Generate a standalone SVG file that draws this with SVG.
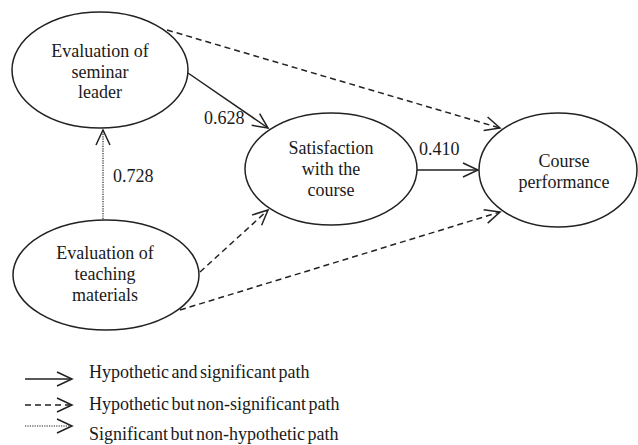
<svg xmlns="http://www.w3.org/2000/svg" width="638" height="445" viewBox="0 0 638 445">
<style>
.node{fill:#fff;stroke:#222;stroke-width:1.5}
text{font-family:"Liberation Serif","Times New Roman",Times,serif;fill:#1a1a1a}
.t{font-size:18px;text-anchor:middle}
.n{font-size:18px}
.lg{font-size:18px;word-spacing:-2px}
.c{fill:none;stroke:#222;stroke-width:1.5}
.dash{stroke-dasharray:6,4}
.dot{stroke-width:1.2;stroke-dasharray:1.2,1.2}
</style>
<defs>
<marker id="ah" markerUnits="userSpaceOnUse" markerWidth="20" markerHeight="20" viewBox="-16 -10 20 20" refX="0" refY="0" orient="auto">
<path d="M-15,-7 L0,0 L-15,7" fill="none" stroke="#222" stroke-width="1.5"/>
</marker>
</defs>
<rect width="638" height="445" fill="#fff"/>
<g id="connectors">
<line class="c" x1="188" y1="73" x2="268" y2="128" marker-end="url(#ah)"/>
<line class="c dash" x1="167" y1="30" x2="500" y2="128" marker-end="url(#ah)"/>
<line class="c" x1="417" y1="170" x2="478" y2="170" marker-end="url(#ah)"/>
<line class="c dot" x1="103" y1="219" x2="103" y2="130" marker-end="url(#ah)"/>
<line class="c dash" x1="200" y1="272" x2="268" y2="210" marker-end="url(#ah)"/>
<line class="c dash" x1="180" y1="310" x2="500" y2="212" marker-end="url(#ah)"/>
<text class="n" x="204" y="124">0.628</text>
<text class="n" x="419" y="155">0.410</text>
<text class="n" x="113" y="182">0.728</text>
</g>
<g id="node-seminar">
<ellipse class="node" cx="100" cy="70" rx="88" ry="58"/>
<text class="t" x="100" y="57">Evaluation of</text>
<text class="t" x="100" y="78">seminar</text>
<text class="t" x="100" y="98">leader</text>
</g>
<g id="node-satisfaction">
<ellipse class="node" cx="331" cy="169" rx="86" ry="56"/>
<text class="t" x="331" y="154">Satisfaction</text>
<text class="t" x="331" y="175">with the</text>
<text class="t" x="331" y="196">course</text>
</g>
<g id="node-performance">
<ellipse class="node" cx="558" cy="170" rx="79" ry="57"/>
<text class="t" x="564" y="167">Course</text>
<text class="t" x="564" y="188">performance</text>
</g>
<g id="node-teaching">
<ellipse class="node" cx="106" cy="275" rx="93" ry="55"/>
<text class="t" x="105" y="259">Evaluation of</text>
<text class="t" x="105" y="280">teaching</text>
<text class="t" x="105" y="301">materials</text>
</g>
<g id="legend">
<line class="c" x1="25" y1="379" x2="72" y2="379" marker-end="url(#ah)"/>
<line class="c dash" x1="25" y1="405" x2="72" y2="405" marker-end="url(#ah)"/>
<line class="c dot" x1="25" y1="426" x2="72" y2="426" marker-end="url(#ah)"/>
<text class="lg" x="89" y="378">Hypothetic and significant path</text>
<text class="lg" x="89" y="410">Hypothetic but non-significant path</text>
<text class="lg" x="89" y="440">Significant but non-hypothetic path</text>
</g>
</svg>
